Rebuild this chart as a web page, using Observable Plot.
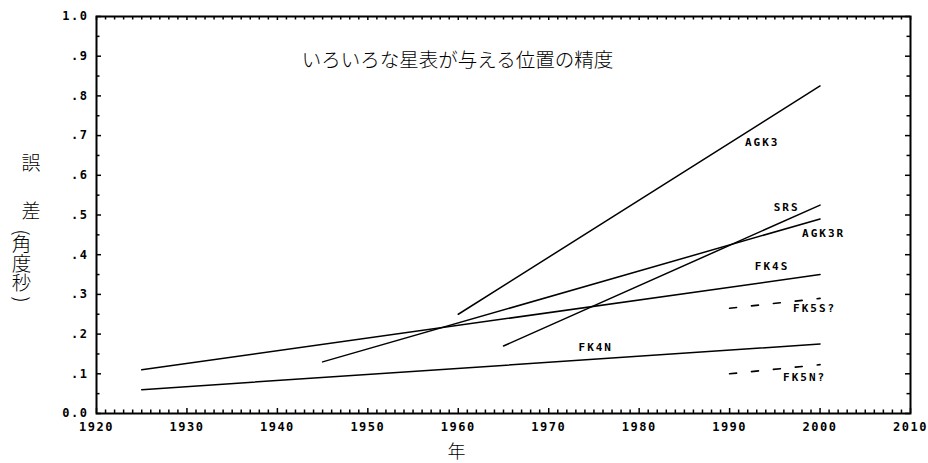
<!DOCTYPE html>
<html>
<head>
<meta charset="utf-8">
<script src="https://cdn.jsdelivr.net/npm/d3@7"></script>
<script src="https://cdn.jsdelivr.net/npm/@observablehq/plot@0.6"></script>
<style>
  body { margin: 0; background: #fff; }
  .ticklbl text { letter-spacing: 1.5px; }
  .serieslbl text { letter-spacing: 2px; }
  .vtext text { writing-mode: vertical-rl; }
</style>
</head>
<body>
<div id="chart"></div>
<script>
// ---- data ----
const catalogs   = ["AGK3", "SRS", "AGK3R", "FK4S", "FK4N", "FK5S?", "FK5N?"];
const startYear  = [1960, 1965, 1945, 1925, 1925, 1990, 1990];
const endYear    = [2000, 2000, 2000, 2000, 2000, 2000, 2000];
const startError = [0.25, 0.17, 0.13, 0.11, 0.06, 0.265, 0.10];
const endError   = [0.825, 0.525, 0.49, 0.35, 0.175, 0.29, 0.123];
const projected  = [false, false, false, false, false, true, true];
// label anchors (year, error) for each catalog name
const labelYear  = [1993.6, 1996.3, 2000.4, 1994.7, 1975.2, 1999.4, 1998.3];
const labelError = [0.683, 0.519, 0.453, 0.370, 0.166, 0.264, 0.091];

const xTicks = [1920, 1930, 1940, 1950, 1960, 1970, 1980, 1990, 2000, 2010];
const xMinorTicks = d3.range(1920, 2011).filter(d => d % 10 !== 0);
const yTicks = [0, 0.1, 0.2, 0.3, 0.4, 0.5, 0.6, 0.7, 0.8, 0.9, 1.0];
const yTickLabels = ["0.0", ".1", ".2", ".3", ".4", ".5", ".6", ".7", ".8", ".9", "1.0"];
const yMinorTicks = [0.05, 0.15, 0.25, 0.35, 0.45, 0.55, 0.65, 0.75, 0.85, 0.95];

const title = "いろいろな星表が与える位置の精度";
const xTitle = "年";
const yTitleA = "誤";
const yTitleB = "差";
const yTitleC = "角度秒";

// ---- build tables ----
const rows = catalogs.flatMap((c, i) => [
  {catalog: c, year: startYear[i], error: startError[i], projected: projected[i]},
  {catalog: c, year: endYear[i], error: endError[i], projected: projected[i]}
]);
const labels = catalogs.map((c, i) => ({catalog: c, year: labelYear[i], error: labelError[i]}));

const mono = "DejaVu Sans Mono";
const cjk = "Noto Sans CJK JP";

const W = 928, H = 463, ML = 96, MR = 18, MT = 16, MB = 50;
const FW = W - ML - MR, FH = H - MT - MB;
const xDomain = [1920, 2010], yDomain = [0, 1];
// tick lengths expressed in each scale's units (pixels / pixels-per-unit)
const xPerPx = (xDomain[1] - xDomain[0]) / FW;
const yPerPx = (yDomain[1] - yDomain[0]) / FH;
const majorLen = 5, minorLen = 3.5;
const tickStyle = {stroke: "black", strokeWidth: 1.5};

const chart = Plot.plot({
  width: W,
  height: H,
  marginLeft: ML,
  marginRight: MR,
  marginTop: MT,
  marginBottom: MB,
  x: {domain: xDomain, label: null},
  y: {domain: yDomain, label: null},
  marks: [
    // tick labels
    Plot.axisX(xTicks, {anchor: "bottom", tickSize: 0, tickPadding: 9, tickFormat: d => String(d),
      fontFamily: mono, fontWeight: "bold", fontSize: 12, className: "ticklbl", label: null}),
    Plot.axisY(yTicks, {anchor: "left", tickSize: 0, tickPadding: 8,
      tickFormat: d => yTickLabels[yTicks.indexOf(d)],
      fontFamily: mono, fontWeight: "bold", fontSize: 12, className: "ticklbl", label: null}),
    Plot.frame({stroke: "black", strokeWidth: 2, fill: "none"}),
    // inward ticks on all four sides
    Plot.ruleX(xTicks, {x: d => d, y1: yDomain[0], y2: yDomain[0] + majorLen * yPerPx, ...tickStyle}),
    Plot.ruleX(xMinorTicks, {x: d => d, y1: yDomain[0], y2: yDomain[0] + minorLen * yPerPx, ...tickStyle}),
    Plot.ruleX(xTicks, {x: d => d, y1: yDomain[1], y2: yDomain[1] - 4 * yPerPx, ...tickStyle}),
    Plot.ruleX(xMinorTicks, {x: d => d, y1: yDomain[1], y2: yDomain[1] - minorLen * yPerPx, ...tickStyle}),
    Plot.ruleY(yTicks, {y: d => d, x1: xDomain[0], x2: xDomain[0] + majorLen * xPerPx, ...tickStyle}),
    Plot.ruleY(yMinorTicks, {y: d => d, x1: xDomain[0], x2: xDomain[0] + minorLen * xPerPx, ...tickStyle}),
    Plot.ruleY(yTicks, {y: d => d, x1: xDomain[1], x2: xDomain[1] - majorLen * xPerPx, ...tickStyle}),
    Plot.ruleY(yMinorTicks, {y: d => d, x1: xDomain[1], x2: xDomain[1] - minorLen * xPerPx, ...tickStyle}),
    // series
    Plot.line(rows.filter(d => !d.projected), {x: "year", y: "error", z: "catalog", stroke: "black", strokeWidth: 1.5}),
    Plot.line(rows.filter(d => d.projected), {x: "year", y: "error", z: "catalog", stroke: "black", strokeWidth: 1.6, strokeDasharray: "7,15"}),
    Plot.text(labels, {x: "year", y: "error", text: "catalog", fontFamily: mono, fontWeight: "bold", fontSize: 11, fill: "black",
      textAnchor: "middle", className: "serieslbl"}),
    // titles
    Plot.text([title], {frameAnchor: "top", lineAnchor: "middle", dx: -46, dy: 44, fontFamily: cjk, fontSize: 19.5, fontWeight: 300, fill: "black"}),
    Plot.text([xTitle], {frameAnchor: "bottom", lineAnchor: "middle", dx: -47, dy: 39, fontFamily: cjk, fontSize: 18, fontWeight: 300, fill: "black"}),
    Plot.text([yTitleA], {frameAnchor: "left", dx: -75, dy: -51, fontFamily: cjk, fontSize: 19, fontWeight: 300, fill: "black"}),
    Plot.text([yTitleB], {frameAnchor: "left", dx: -75, dy: -3, fontFamily: cjk, fontSize: 19, fontWeight: 300, fill: "black"}),
    Plot.text(["("], {frameAnchor: "left", dx: -75, dy: 14.5, rotate: 90, fontFamily: cjk, fontSize: 19, fontWeight: 300, fill: "black"}),
    Plot.text([yTitleC], {frameAnchor: "left", dx: -75, dy: 13, textAnchor: "start", fontFamily: cjk, fontSize: 19.5, fontWeight: 300, fill: "black", className: "vtext"}),
    Plot.text([")"], {frameAnchor: "left", dx: -75, dy: 81.5, rotate: 90, fontFamily: cjk, fontSize: 19, fontWeight: 300, fill: "black"})
  ]
});
document.getElementById("chart").appendChild(chart);
</script>
</body>
</html>
